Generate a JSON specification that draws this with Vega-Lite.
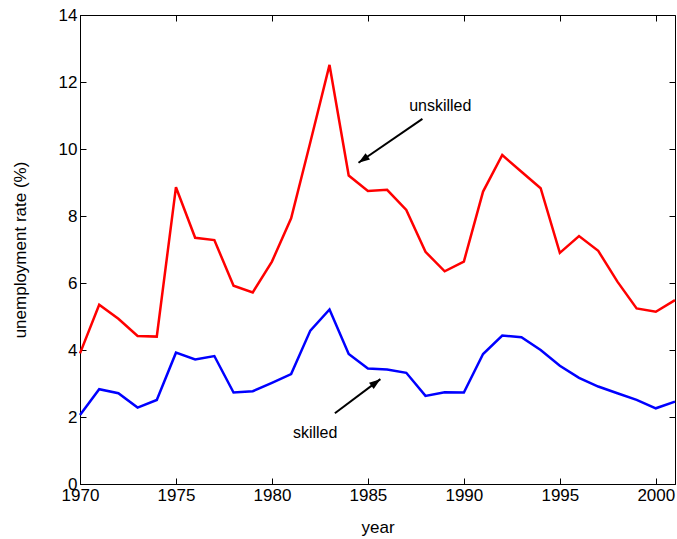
{
  "$schema": "https://vega.github.io/schema/vega-lite/v6.json",
  "width": 595,
  "height": 469,
  "autosize": {"type": "none"},
  "padding": {"left": 80, "top": 15, "right": 2, "bottom": 55},
  "config": {
    "font": "Liberation Sans",
    "view": {"stroke": "black", "strokeWidth": 1},
    "axis": {
      "domainColor": "black",
      "tickColor": "black",
      "labelColor": "black",
      "titleColor": "black",
      "labelFontSize": 17,
      "titleFontSize": 17,
      "titleFontWeight": "normal",
      "grid": false,
      "tickSize": -6,
      "labelPadding": 9,
      "labelFlush": false,
      "labelOverlap": false,
      "labelBound": false
    }
  },
  "datasets": {
    "series": [
      {"year": 1970, "rate": 3.90, "group": "unskilled"},
      {"year": 1971, "rate": 5.35, "group": "unskilled"},
      {"year": 1972, "rate": 4.93, "group": "unskilled"},
      {"year": 1973, "rate": 4.42, "group": "unskilled"},
      {"year": 1974, "rate": 4.40, "group": "unskilled"},
      {"year": 1975, "rate": 8.86, "group": "unskilled"},
      {"year": 1976, "rate": 7.35, "group": "unskilled"},
      {"year": 1977, "rate": 7.28, "group": "unskilled"},
      {"year": 1978, "rate": 5.92, "group": "unskilled"},
      {"year": 1979, "rate": 5.72, "group": "unskilled"},
      {"year": 1980, "rate": 6.64, "group": "unskilled"},
      {"year": 1981, "rate": 7.93, "group": "unskilled"},
      {"year": 1982, "rate": 10.2, "group": "unskilled"},
      {"year": 1983, "rate": 12.51, "group": "unskilled"},
      {"year": 1984, "rate": 9.21, "group": "unskilled"},
      {"year": 1985, "rate": 8.75, "group": "unskilled"},
      {"year": 1986, "rate": 8.78, "group": "unskilled"},
      {"year": 1987, "rate": 8.18, "group": "unskilled"},
      {"year": 1988, "rate": 6.93, "group": "unskilled"},
      {"year": 1989, "rate": 6.35, "group": "unskilled"},
      {"year": 1990, "rate": 6.64, "group": "unskilled"},
      {"year": 1991, "rate": 8.73, "group": "unskilled"},
      {"year": 1992, "rate": 9.82, "group": "unskilled"},
      {"year": 1993, "rate": 9.32, "group": "unskilled"},
      {"year": 1994, "rate": 8.83, "group": "unskilled"},
      {"year": 1995, "rate": 6.90, "group": "unskilled"},
      {"year": 1996, "rate": 7.40, "group": "unskilled"},
      {"year": 1997, "rate": 6.96, "group": "unskilled"},
      {"year": 1998, "rate": 6.04, "group": "unskilled"},
      {"year": 1999, "rate": 5.24, "group": "unskilled"},
      {"year": 2000, "rate": 5.14, "group": "unskilled"},
      {"year": 2001, "rate": 5.49, "group": "unskilled"},
      {"year": 1970, "rate": 2.06, "group": "skilled"},
      {"year": 1971, "rate": 2.83, "group": "skilled"},
      {"year": 1972, "rate": 2.71, "group": "skilled"},
      {"year": 1973, "rate": 2.28, "group": "skilled"},
      {"year": 1974, "rate": 2.51, "group": "skilled"},
      {"year": 1975, "rate": 3.92, "group": "skilled"},
      {"year": 1976, "rate": 3.72, "group": "skilled"},
      {"year": 1977, "rate": 3.82, "group": "skilled"},
      {"year": 1978, "rate": 2.73, "group": "skilled"},
      {"year": 1979, "rate": 2.77, "group": "skilled"},
      {"year": 1980, "rate": 3.02, "group": "skilled"},
      {"year": 1981, "rate": 3.28, "group": "skilled"},
      {"year": 1982, "rate": 4.58, "group": "skilled"},
      {"year": 1983, "rate": 5.21, "group": "skilled"},
      {"year": 1984, "rate": 3.88, "group": "skilled"},
      {"year": 1985, "rate": 3.45, "group": "skilled"},
      {"year": 1986, "rate": 3.42, "group": "skilled"},
      {"year": 1987, "rate": 3.32, "group": "skilled"},
      {"year": 1988, "rate": 2.63, "group": "skilled"},
      {"year": 1989, "rate": 2.74, "group": "skilled"},
      {"year": 1990, "rate": 2.73, "group": "skilled"},
      {"year": 1991, "rate": 3.88, "group": "skilled"},
      {"year": 1992, "rate": 4.43, "group": "skilled"},
      {"year": 1993, "rate": 4.38, "group": "skilled"},
      {"year": 1994, "rate": 4.00, "group": "skilled"},
      {"year": 1995, "rate": 3.53, "group": "skilled"},
      {"year": 1996, "rate": 3.17, "group": "skilled"},
      {"year": 1997, "rate": 2.91, "group": "skilled"},
      {"year": 1998, "rate": 2.71, "group": "skilled"},
      {"year": 1999, "rate": 2.51, "group": "skilled"},
      {"year": 2000, "rate": 2.26, "group": "skilled"},
      {"year": 2001, "rate": 2.46, "group": "skilled"}
    ],
    "arrows": [
      {"label": "unskilled", "x1": 1987.84, "y1": 10.90, "x2": 1984.51, "y2": 9.59, "angle": 235.5, "tx": 1988.77, "ty": 11.12},
      {"label": "skilled", "x1": 1983.28, "y1": 2.11, "x2": 1985.65, "y2": 3.13, "angle": 53.2, "tx": 1982.25, "ty": 1.38}
    ]
  },
  "layer": [
    {
      "layer": [
        {
          "data": {"name": "series"},
          "mark": {"type": "line", "strokeWidth": 2.5},
          "encoding": {
            "x": {
              "field": "year", "type": "quantitative", "title": "year",
              "scale": {"domain": [1970, 2001], "nice": false, "zero": false},
              "axis": {"values": [1970, 1975, 1980, 1985, 1990, 1995, 2000], "format": "d", "title": "year", "titlePadding": 16}
            },
            "y": {
              "field": "rate", "type": "quantitative", "title": "unemployment rate (%)",
              "scale": {"domain": [0, 14], "nice": false},
              "axis": {"values": [0, 2, 4, 6, 8, 10, 12, 14], "title": "unemployment rate (%)", "titlePadding": 29}
            },
            "color": {
              "field": "group", "type": "nominal",
              "scale": {"domain": ["unskilled", "skilled"], "range": ["#ff0000", "#0000ff"]},
              "legend": null
            }
          }
        },
        {
          "data": {"name": "arrows"},
          "mark": {"type": "rule", "strokeWidth": 2, "color": "black"},
          "encoding": {
            "x": {"field": "x1", "type": "quantitative", "title": "year",
              "axis": {"values": [1970, 1975, 1980, 1985, 1990, 1995, 2000], "format": "d", "title": "year", "titlePadding": 16}},
            "y": {"field": "y1", "type": "quantitative", "title": "unemployment rate (%)",
              "axis": {"values": [0, 2, 4, 6, 8, 10, 12, 14], "title": "unemployment rate (%)", "titlePadding": 29}},
            "x2": {"field": "x2"},
            "y2": {"field": "y2"}
          }
        },
        {
          "data": {"name": "arrows"},
          "mark": {"type": "point", "shape": "M0,0L-0.45,1.3L0.45,1.3Z", "filled": true, "color": "black", "opacity": 1, "size": 300, "strokeWidth": 0},
          "encoding": {
            "x": {"field": "x2", "type": "quantitative", "title": "year",
              "axis": {"values": [1970, 1975, 1980, 1985, 1990, 1995, 2000], "format": "d", "title": "year", "titlePadding": 16}},
            "y": {"field": "y2", "type": "quantitative", "title": "unemployment rate (%)",
              "axis": {"values": [0, 2, 4, 6, 8, 10, 12, 14], "title": "unemployment rate (%)", "titlePadding": 29}},
            "angle": {"field": "angle", "type": "quantitative", "scale": null}
          }
        },
        {
          "data": {"name": "arrows"},
          "mark": {"type": "text", "fontSize": 16, "align": "center", "baseline": "alphabetic", "color": "black"},
          "encoding": {
            "x": {"field": "tx", "type": "quantitative", "title": "year",
              "axis": {"values": [1970, 1975, 1980, 1985, 1990, 1995, 2000], "format": "d", "title": "year", "titlePadding": 16}},
            "y": {"field": "ty", "type": "quantitative", "title": "unemployment rate (%)",
              "axis": {"values": [0, 2, 4, 6, 8, 10, 12, 14], "title": "unemployment rate (%)", "titlePadding": 29}},
            "text": {"field": "label"}
          }
        }
      ]
    },
    {
      "data": {"name": "series"},
      "mark": {"type": "point", "opacity": 0},
      "encoding": {
        "x": {"field": "year", "type": "quantitative",
          "axis": {"orient": "top", "values": [1970, 1975, 1980, 1985, 1990, 1995, 2000], "labels": false, "title": null, "domain": false}},
        "y": {"field": "rate", "type": "quantitative",
          "axis": {"orient": "right", "values": [0, 2, 4, 6, 8, 10, 12, 14], "labels": false, "title": null, "domain": false}}
      }
    }
  ],
  "resolve": {"axis": {"x": "independent", "y": "independent"}}
}
